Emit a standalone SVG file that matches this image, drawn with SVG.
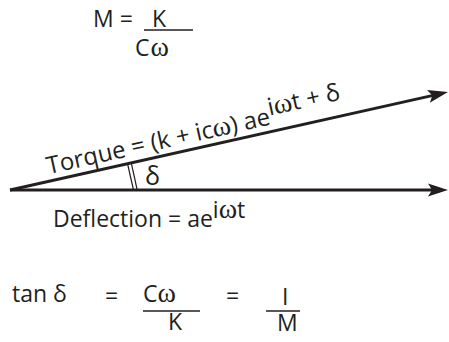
<svg xmlns="http://www.w3.org/2000/svg" width="449" height="342" viewBox="0 0 449 342">
<style>
.t{font-family:"Open Sans","Noto Sans","Liberation Sans",sans-serif;font-size:23px;fill:#231f20}
.w{font-family:"Liberation Serif","DejaVu Serif",serif;font-size:28px}
.bar{stroke:#231f20;stroke-width:1.5;fill:none}
.arr{stroke:#231f20;stroke-width:3;fill:none}
.tick{stroke:#231f20;stroke-width:1.2;fill:none}
</style>
<defs>
<marker id="ah" markerUnits="userSpaceOnUse" viewBox="-21 -7 22 14" markerWidth="22" markerHeight="14" refX="-14" refY="0" orient="auto">
<path d="M0,0 L-20,-6.5 L-16,0 L-20,6.5 Z" fill="#231f20"/>
</marker>
</defs>
<g id="formula-m">
<text class="t" x="93" y="27">M =</text>
<text class="t" x="152" y="27">K</text>
<line class="bar" x1="144" y1="30" x2="193" y2="30"/>
<text class="t" x="135" y="56">C<tspan class="w" dx="1">ω</tspan></text>
</g>
<g id="connectors">
<line class="arr" x1="10" y1="190" x2="434" y2="190" marker-end="url(#ah)"/>
<line class="arr" x1="10" y1="190" x2="434.3" y2="95.1" marker-end="url(#ah)"/>
<line class="tick" x1="127.5" y1="163.5" x2="133.5" y2="190"/>
<line class="tick" x1="131.2" y1="162.7" x2="137.2" y2="190"/>
</g>
<g id="torque">
<text class="t" style="font-size:24px" transform="translate(10,190) rotate(-12.6)" x="41" y="-7">Torque = (k + ic<tspan class="w">ω</tspan>) ae<tspan dy="-9">i<tspan class="w">ω</tspan>t + δ</tspan></text>
</g>
<g id="delta-label">
<text class="t" x="145" y="185" style="font-size:25px">δ</text>
</g>
<g id="deflection">
<text class="t" x="53" y="227">Deflection = ae<tspan dy="-9">i<tspan class="w">ω</tspan>t</tspan></text>
</g>
<g id="formula-tan">
<text class="t" x="12" y="302">tan δ</text>
<text class="t" x="105" y="304">=</text>
<text class="t" x="143" y="302">C<tspan class="w">ω</tspan></text>
<line class="bar" x1="143" y1="311" x2="200" y2="311"/>
<text class="t" x="168" y="330">K</text>
<text class="t" x="226" y="304">=</text>
<line class="bar" x1="266" y1="311" x2="300" y2="311"/>
<text class="t" x="282" y="305">I</text>
<text class="t" x="277" y="331">M</text>
</g>
</svg>
